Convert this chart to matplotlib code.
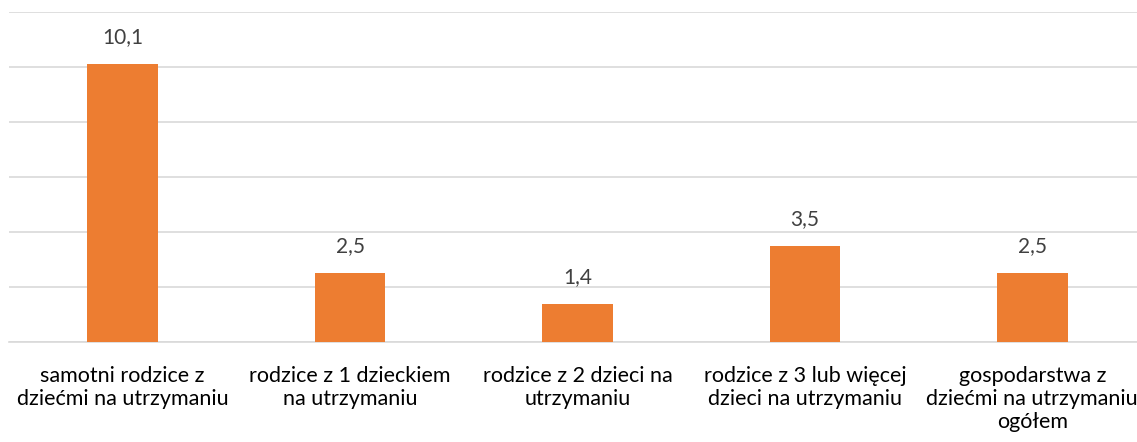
import matplotlib
matplotlib.use("Agg")
import matplotlib.pyplot as plt

categories = [
    "samotni rodzice z\ndziećmi na utrzymaniu",
    "rodzice z 1 dzieckiem\nna utrzymaniu",
    "rodzice z 2 dzieci na\nutrzymaniu",
    "rodzice z 3 lub więcej\ndzieci na utrzymaniu",
    "gospodarstwa z\ndziećmi na utrzymaniu\nogółem",
]
values = [10.1, 2.5, 1.4, 3.5, 2.5]
value_labels = ["10,1", "2,5", "1,4", "3,5", "2,5"]

plt.rcParams["font.family"] = ["Lato", "DejaVu Sans"]

fig = plt.figure(figsize=(11.37, 4.42), dpi=100)
ax = fig.add_axes([9 / 1137, 100 / 442, 1137 / 1137, 330 / 442])

x = range(len(categories))
bars = ax.bar(x, values, width=0.31, color="#ED7D31", zorder=3)

for b, lab in zip(bars, value_labels):
    ax.annotate(lab, (b.get_x() + b.get_width() / 2, b.get_height()),
                xytext=(0, 12), textcoords="offset points",
                ha="center", va="bottom", fontsize=15, color="#404040")

ax.set_xlim(-0.5, 4.5)
ax.set_ylim(0, 12)
ax.set_yticks(range(0, 13, 2))
ax.yaxis.grid(True, color="#D9D9D9", linewidth=1.2, zorder=0)
ax.tick_params(axis="y", left=False, labelleft=False)
ax.set_xticks(list(x))
ax.set_xticklabels(categories, fontsize=15.5, color="black", linespacing=1.2)
ax.tick_params(axis="x", length=0, pad=17)
for s in ["top", "right", "left"]:
    ax.spines[s].set_visible(False)
ax.spines["bottom"].set_color("#D9D9D9")
ax.spines["bottom"].set_linewidth(1.2)

fig.savefig("out.png", dpi=100)
